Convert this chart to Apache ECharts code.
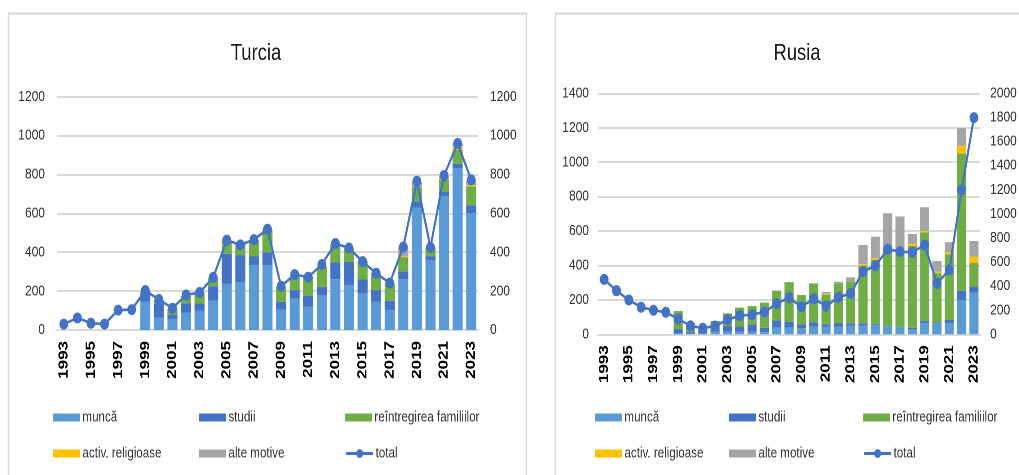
<!DOCTYPE html>
<html>
<head>
<meta charset="utf-8">
<script src="https://cdn.jsdelivr.net/npm/echarts@6/dist/echarts.min.js"></script>
<style>
  html, body { margin: 0; padding: 0; background: #fff; overflow: hidden; }
  #wrap { width: 1019px; height: 475px; overflow: hidden; }
  /* The charts are laid out in a wider box and compressed horizontally,
     which gives the condensed lettering and the tall oval markers. */
  #chart { height: 475px; transform-origin: 0 0; }
</style>
</head>
<body>
<div id="wrap"><div id="chart"></div></div>
<script>
// Years on the category axis
const years = ['1993','1994','1995','1996','1997','1998','1999','2000','2001','2002','2003','2004','2005','2006','2007','2008','2009','2010','2011','2012','2013','2014','2015','2016','2017','2018','2019','2020','2021','2022','2023'];

// Turcia – permits by reason (1993–1998 only the total is known)
const trMunca  = [null,null,null,null,null,null,145,63,57,88,100,150,237,247,333,333,105,163,120,180,262,230,190,145,103,262,630,360,688,833,602];
const trStudii = [null,null,null,null,null,null,40,72,22,50,37,75,155,138,45,67,40,42,57,42,85,120,70,60,47,40,32,20,22,22,40];
const trFam    = [null,null,null,null,null,null,15,20,28,37,55,45,65,55,85,115,78,69,97,105,95,70,95,88,90,73,72,40,63,72,97];
const trRelig  = [null,null,null,null,null,null,0,0,0,0,0,0,0,0,0,0,0,0,0,0,0,0,0,0,0,5,0,0,5,13,6];
const trAlte   = [null,null,null,null,null,null,0,0,0,0,0,0,0,0,0,0,0,0,0,0,0,0,0,0,0,47,28,5,17,20,25];
const trTotal  = [30,62,35,30,102,105,203,157,112,180,193,270,462,438,465,518,225,285,272,337,445,422,352,292,242,427,765,425,795,960,772];

// Rusia – permits by reason
const ruMunca  = [null,null,null,null,null,null,5,3,5,15,15,15,15,12,40,38,35,45,44,45,50,50,55,44,41,29,64,64,64,199,242];
const ruStudii = [null,null,null,null,null,null,25,12,14,14,35,30,43,26,40,35,23,25,14,20,14,14,5,3,3,9,13,6,19,54,35];
const ruFam    = [null,null,null,null,null,null,105,52,25,48,72,110,106,146,174,230,170,226,172,227,244,335,372,447,430,475,516,285,382,799,139];
const ruRelig  = [null,null,null,null,null,null,0,0,0,0,0,0,0,0,0,0,0,0,6,0,0,8,10,0,0,12,7,9,12,43,35];
const ruAlte   = [null,null,null,null,null,null,0,0,0,0,0,0,0,0,0,0,0,0,10,13,23,112,125,209,210,58,138,62,58,103,91];
const ruTotal  = [456,362,285,225,200,183,128,70,50,69,121,155,163,185,255,304,229,295,235,307,340,520,569,705,686,680,741,423,534,1198,1798];

const seriesNames = ['muncă','studii','reîntregirea familiilor','activ. religioase','alte motive','total'];
const barColors = ['#5b9bd5','#4472c4','#70ad47','#ffc000','#a5a5a5'];
const lineColor = '#4472c4';

// Horizontal compression factor of the drawing box
const SX = 0.8;
const X = function (v) { return v / SX; };

const font = "'Liberation Sans','Arial',sans-serif";
const gridColor = '#d9d9d9';

const el = document.getElementById('chart');
el.style.width = X(1019) + 'px';
el.style.transform = 'scaleX(' + SX + ')';
const chart = echarts.init(el, null, { renderer: 'canvas', devicePixelRatio: 2 });

function barSeries(name, data, color, gridIdx) {
  return {
    name: name, type: 'bar', stack: 'g' + gridIdx,
    xAxisIndex: gridIdx, yAxisIndex: gridIdx * 2,
    data: data, barWidth: '74%',
    itemStyle: { color: color },
    emphasis: { disabled: true }
  };
}
function lineSeries(data, gridIdx) {
  return {
    name: 'total', type: 'line',
    xAxisIndex: gridIdx, yAxisIndex: gridIdx * 2 + 1,
    data: data, z: 5,
    symbol: 'circle', symbolSize: 11, showAllSymbol: true,
    lineStyle: { color: lineColor, width: 2.6 },
    itemStyle: { color: lineColor },
    emphasis: { disabled: true }
  };
}

function xAxis(gridIdx) {
  return {
    type: 'category', gridIndex: gridIdx, data: years,
    axisLine: { show: true, lineStyle: { color: gridColor, width: 2 } },
    axisTick: { show: false },
    axisLabel: {
      rotate: 90, interval: 1, margin: 11,
      fontFamily: font, fontSize: 17, fontWeight: 'bold', color: '#000'
    }
  };
}
function yAxis(gridIdx, max, pos, split, margin) {
  return {
    type: 'value', gridIndex: gridIdx, min: 0, max: max, interval: 200, position: pos,
    axisLine: { show: false }, axisTick: { show: false },
    splitLine: { show: split, lineStyle: { color: gridColor, width: 2 } },
    axisLabel: {
      fontFamily: font, fontSize: 15, color: '#333', margin: X(margin),
      formatter: function (v) { return String(v); }
    }
  };
}

// Legend: one small legend per entry so the entries sit in fixed columns
const legendCols = [[53, 199, 345], [595, 729, 863]];
const legendRows = [418, 454];
const legends = [];
[0, 1].forEach(function (g) {
  seriesNames.forEach(function (n, i) {
    const isLine = i === 5;
    const item = { name: n };
    if (!isLine) item.icon = 'rect';
    const h = isLine ? 11 : 8;
    legends.push({
      data: [item], left: X(legendCols[g][i % 3]), top: legendRows[Math.floor(i / 3)] - 8,
      padding: 0, itemWidth: X(27), itemHeight: h, selectedMode: false,
      lineStyle: { width: 3 },
      textStyle: { fontFamily: font, fontSize: 14.5, color: '#333', padding: [0, 0, 0, -2] }
    });
  });
});

const option = {
  backgroundColor: '#fff',
  animation: false,
  title: [
    { text: 'Turcia', left: X(252), top: 37, textAlign: 'center',
      textStyle: { fontFamily: font, fontSize: 23, fontWeight: 'normal', color: '#1a1a1a' } },
    { text: 'Rusia', left: X(793), top: 37, textAlign: 'center',
      textStyle: { fontFamily: font, fontSize: 23, fontWeight: 'normal', color: '#1a1a1a' } }
  ],
  legend: legends,
  graphic: [
    { type: 'rect', shape: { x: X(8.5), y: 13.5, width: X(518), height: 480 }, z: -10,
      style: { fill: 'none', stroke: gridColor, lineWidth: 2 } },
    { type: 'rect', shape: { x: X(555.5), y: 13.5, width: X(500), height: 480 }, z: -10,
      style: { fill: 'none', stroke: gridColor, lineWidth: 2 } }
  ],
  grid: [
    { left: X(57), top: 96.7, width: X(421), height: 233.3 },
    { left: X(598), top: 93.3, width: X(389), height: 241 }
  ],
  xAxis: [xAxis(0), xAxis(1)],
  yAxis: [
    yAxis(0, 1200, 'left', true, 12),
    yAxis(0, 1200, 'right', false, 12),
    yAxis(1, 1400, 'left', true, 9),
    yAxis(1, 2000, 'right', false, 10)
  ],
  series: [
    barSeries(seriesNames[0], trMunca, barColors[0], 0),
    barSeries(seriesNames[1], trStudii, barColors[1], 0),
    barSeries(seriesNames[2], trFam, barColors[2], 0),
    barSeries(seriesNames[3], trRelig, barColors[3], 0),
    barSeries(seriesNames[4], trAlte, barColors[4], 0),
    lineSeries(trTotal, 0),
    barSeries(seriesNames[0], ruMunca, barColors[0], 1),
    barSeries(seriesNames[1], ruStudii, barColors[1], 1),
    barSeries(seriesNames[2], ruFam, barColors[2], 1),
    barSeries(seriesNames[3], ruRelig, barColors[3], 1),
    barSeries(seriesNames[4], ruAlte, barColors[4], 1),
    lineSeries(ruTotal, 1)
  ]
};

chart.setOption(option);
</script>
</body>
</html>
